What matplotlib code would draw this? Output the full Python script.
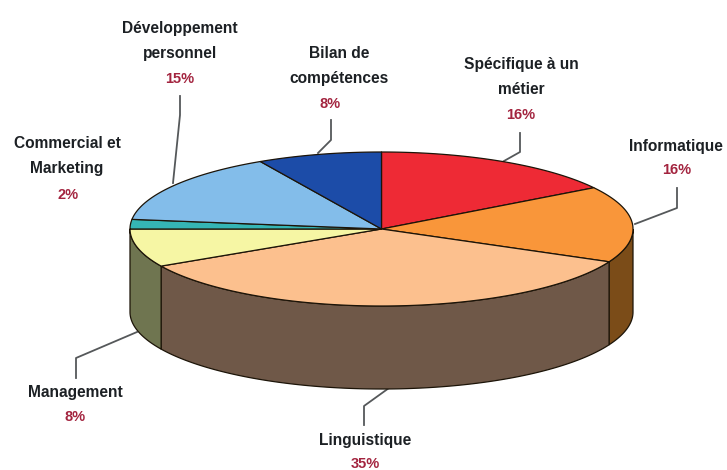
import numpy as np
import matplotlib
matplotlib.use("Agg")
import matplotlib.pyplot as plt

categories = ["Spécifique à un\nmétier", "Informatique", "Linguistique", "Management",
              "Commercial et\nMarketing", "Développement\npersonnel", "Bilan de\ncompétences"]
values = [16, 16, 35, 8, 2, 15, 8]
top_colors = ["#ee2a35", "#f9963a", "#fcc08e", "#f6f6a4", "#35b5b5", "#83bdea", "#1c4ca8"]
side_colors = ["#7a1a1a", "#7b4c18", "#6f5848", "#6f7550", "#1a6a6a", "#3f5f80", "#10285a"]
label_xy = [(521, 77), (676, 147), (365, 440), (75, 392), (67, 156), (180, 41), (339, 66)]
pct_xy = [(521, 115), (677, 170), (365, 464), (75, 417), (68, 195), (180, 79), (330, 104)]
leaders = [
    [(520, 133), (520, 152), (504, 161)],
    [(677, 188), (677, 208), (635, 224)],
    [(364, 425), (364, 406), (389, 388)],
    [(76, 378), (76, 358), (137, 332)],
    None,
    [(180, 96), (180, 115), (173, 183)],
    [(331, 120), (331, 140), (318, 153)],
]

CX, CY, RX, RY, DEPTH = 381.5, 229.0, 251.5, 77.0, 83.0

fig = plt.figure(figsize=(7.27, 4.70), dpi=100)
ax = fig.add_axes([0, 0, 1, 1])
ax.set_xlim(0, 727)
ax.set_ylim(470, 0)
ax.axis("off")


def pts(a, b, dy=0.0):
    t = np.radians(np.linspace(a, b, max(int(abs(b - a) * 2), 2)))
    return CX + RX * np.sin(t), CY - RY * np.cos(t) + dy


edges = np.cumsum([0] + values) * 3.6

# Side wall: only the front half of the ellipse is visible (90 to 270 degrees)
for i in range(len(values)):
    a, b = max(edges[i], 90), min(edges[i + 1], 270)
    if b <= a:
        continue
    x, y = pts(a, b)
    x2, y2 = pts(b, a, DEPTH)
    ax.fill(np.r_[x, x2], np.r_[y, y2], fc=side_colors[i], ec="#1c1408", lw=0.9, zorder=2)

# Top face
for i in range(len(values)):
    x, y = pts(edges[i], edges[i + 1])
    ax.fill(np.r_[CX, x], np.r_[CY, y], fc=top_colors[i], ec="#1c1408", lw=0.9,
            joinstyle="round", zorder=3)

for seg in leaders:
    if seg:
        xs, ys = zip(*seg)
        ax.plot(xs, ys, color="#55585a", lw=1.3, zorder=1)

font = dict(family="Liberation Sans", fontweight="bold", ha="center", va="center")
for name, v, (lx, ly), (px, py) in zip(categories, values, label_xy, pct_xy):
    ax.text(lx, ly, name, fontsize=11.2, color="#1c2024", linespacing=1.88, **font)
    ax.text(px, py, f"{v}%", fontsize=10.5, color="#a3243f", **font)

fig.savefig("out.png", dpi=100, facecolor="white")
